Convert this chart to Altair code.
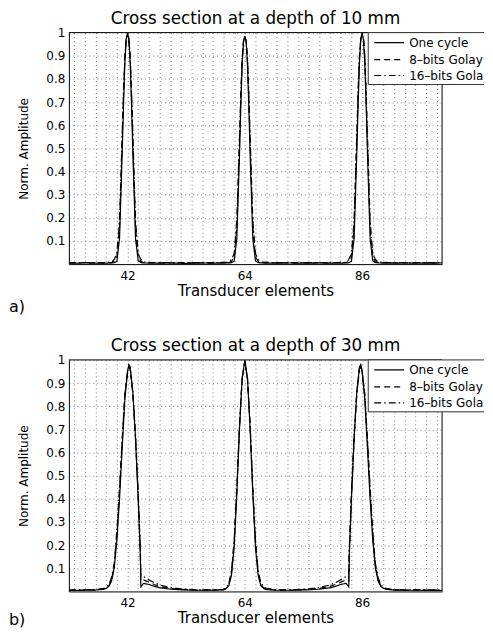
import altair as alt
import pandas as pd

SERIES = ["One cycle", "8–bits Golay", "16–bits Golay"]
DASHES = [[1, 0], [6, 4], [7, 3, 1.5, 3]]

X_LABELS = [42, 64, 86]
X_GRID = list(range(32, 101, 2))
Y_TICKS = [0.1, 0.2, 0.3, 0.4, 0.5, 0.6, 0.7, 0.8, 0.9, 1.0]

# ---------------- panel a) depth 10 mm ----------------
xa = [31, 34, 37, 39,
      39.5, 40, 40.5, 41, 41.25, 41.5, 41.75, 42, 42.25, 42.5, 42.75, 43, 43.5, 44, 44.5, 45,
      47, 50, 53, 56, 59, 61,
      61.5, 62, 62.5, 63, 63.25, 63.5, 63.75, 64, 64.25, 64.5, 64.75, 65, 65.5, 66, 66.5, 67,
      69, 72, 75, 78, 81, 83,
      83.5, 84, 84.5, 85, 85.25, 85.5, 85.75, 86, 86.25, 86.5, 86.75, 87, 87.5, 88, 88.5, 89,
      91, 94, 97, 101]

a_one = [0.004, 0.005, 0.004, 0.005,
         0.006, 0.012, 0.11, 0.48, 0.69, 0.87, 0.97, 1.0, 0.97, 0.87, 0.69, 0.48, 0.11, 0.015, 0.007, 0.005,
         0.004, 0.005, 0.003, 0.005, 0.004, 0.005,
         0.006, 0.013, 0.11, 0.47, 0.68, 0.86, 0.96, 0.985, 0.96, 0.86, 0.68, 0.47, 0.11, 0.014, 0.007, 0.005,
         0.004, 0.005, 0.004, 0.005, 0.004, 0.005,
         0.006, 0.013, 0.11, 0.48, 0.69, 0.87, 0.97, 1.0, 0.97, 0.87, 0.69, 0.48, 0.11, 0.014, 0.007, 0.005,
         0.004, 0.005, 0.004, 0.005]

a_g8 = [0.005, 0.006, 0.005, 0.006,
        0.012, 0.03, 0.16, 0.53, 0.73, 0.89, 0.975, 0.99, 0.975, 0.89, 0.73, 0.53, 0.16, 0.03, 0.012, 0.007,
        0.006, 0.005, 0.006, 0.005, 0.006, 0.006,
        0.012, 0.03, 0.16, 0.52, 0.72, 0.88, 0.965, 0.98, 0.965, 0.88, 0.72, 0.52, 0.16, 0.03, 0.012, 0.007,
        0.006, 0.005, 0.006, 0.005, 0.006, 0.006,
        0.012, 0.03, 0.16, 0.53, 0.73, 0.89, 0.975, 0.99, 0.975, 0.89, 0.73, 0.53, 0.16, 0.03, 0.012, 0.007,
        0.006, 0.005, 0.006, 0.005]

a_g16 = [0.006, 0.007, 0.006, 0.008,
         0.02, 0.045, 0.19, 0.56, 0.75, 0.9, 0.975, 0.99, 0.975, 0.9, 0.75, 0.56, 0.19, 0.045, 0.02, 0.009,
         0.007, 0.006, 0.007, 0.006, 0.007, 0.008,
         0.02, 0.045, 0.19, 0.55, 0.74, 0.89, 0.965, 0.98, 0.965, 0.89, 0.74, 0.55, 0.19, 0.045, 0.02, 0.009,
         0.007, 0.006, 0.007, 0.006, 0.007, 0.008,
         0.02, 0.045, 0.19, 0.56, 0.75, 0.9, 0.975, 0.99, 0.975, 0.9, 0.75, 0.56, 0.19, 0.045, 0.02, 0.009,
         0.007, 0.006, 0.007, 0.006]

# ---------------- panel b) depth 30 mm ----------------
xb = [31, 34, 36, 37.5, 38, 38.5, 39, 39.5, 40, 40.5,
      41, 41.5, 42, 42.25, 42.5, 43, 43.5, 44, 44.4, 44.5,
      45, 46, 47, 48, 50, 52, 55, 58,
      60, 60.5, 61, 61.5, 62, 62.5, 63, 63.5, 64, 64.5, 65, 65.5, 66, 66.5, 67, 67.5, 68,
      70, 73, 76, 78, 80, 81, 82, 83, 83.5, 83.6,
      84, 84.5, 85, 85.5, 85.75, 86, 86.5, 87, 87.5, 88,
      88.5, 89, 89.5, 90, 90.5, 92, 94, 97, 101]

b_one = [0.004, 0.005, 0.006, 0.009, 0.013, 0.022, 0.045, 0.1, 0.22, 0.4,
         0.62, 0.83, 0.95, 0.98, 0.97, 0.86, 0.66, 0.4, 0.16, 0.02,
         0.035, 0.03, 0.022, 0.016, 0.01, 0.007, 0.005, 0.005,
         0.007, 0.012, 0.025, 0.07, 0.19, 0.42, 0.7, 0.92, 1.0, 0.92, 0.7, 0.42, 0.19, 0.07, 0.025, 0.013, 0.008,
         0.005, 0.005, 0.007, 0.01, 0.016, 0.022, 0.03, 0.035, 0.02, 0.16,
         0.4, 0.66, 0.86, 0.97, 0.98, 0.95, 0.83, 0.62, 0.4, 0.22,
         0.1, 0.045, 0.022, 0.013, 0.009, 0.006, 0.005, 0.005, 0.004]

b_g8 = [0.005, 0.006, 0.007, 0.011, 0.015, 0.025, 0.05, 0.11, 0.24, 0.43,
        0.65, 0.85, 0.95, 0.97, 0.96, 0.85, 0.66, 0.41, 0.17, 0.045,
        0.05, 0.04, 0.03, 0.022, 0.013, 0.009, 0.006, 0.006,
        0.008, 0.014, 0.03, 0.08, 0.21, 0.44, 0.71, 0.92, 0.995, 0.92, 0.71, 0.44, 0.21, 0.08, 0.03, 0.016, 0.01,
        0.006, 0.006, 0.009, 0.013, 0.022, 0.03, 0.04, 0.05, 0.045, 0.17,
        0.41, 0.66, 0.85, 0.96, 0.97, 0.95, 0.85, 0.65, 0.43, 0.24,
        0.11, 0.05, 0.025, 0.015, 0.011, 0.007, 0.006, 0.006, 0.005]

b_g16 = [0.006, 0.007, 0.008, 0.013, 0.018, 0.03, 0.06, 0.12, 0.26, 0.45,
         0.66, 0.85, 0.95, 0.97, 0.96, 0.86, 0.68, 0.43, 0.19, 0.07,
         0.065, 0.05, 0.038, 0.028, 0.017, 0.011, 0.007, 0.007,
         0.009, 0.016, 0.035, 0.09, 0.22, 0.45, 0.72, 0.92, 0.99, 0.92, 0.72, 0.45, 0.22, 0.09, 0.038, 0.021, 0.013,
         0.007, 0.007, 0.011, 0.017, 0.028, 0.038, 0.05, 0.065, 0.07, 0.19,
         0.43, 0.68, 0.86, 0.96, 0.97, 0.95, 0.85, 0.66, 0.45, 0.26,
         0.12, 0.06, 0.03, 0.018, 0.013, 0.008, 0.007, 0.007, 0.006]

TITLES = ["Cross section at a depth of 10 mm", "Cross section at a depth of 30 mm"]
TAGS = ["a)", "b)"]

W, H = 374, 232
FONT = "DejaVu Sans"

# legend geometry (pixels within plot)
LX0, LX1, LH = 300, 416, 52
ROWS_Y = [10, 27, 43]
SAMPLE_X0, SAMPLE_X1, TEXT_X = 306, 336, 341

one_row = pd.DataFrame({"k": [0]})


def panel(x, ys, title, tag, tag_dy):
    rows = []
    for name, vals in zip(SERIES, ys):
        assert len(vals) == len(x)
        for xi, yi in zip(x, vals):
            rows.append({"x": xi, "y": yi, "series": name})
    df = pd.DataFrame(rows)

    lines = alt.Chart(df).mark_line(color="black", strokeWidth=1.2, clip=True).encode(
        x=alt.X("x:Q",
                scale=alt.Scale(domain=[31, 101], nice=False, zero=False),
                axis=alt.Axis(values=X_GRID,
                              labelExpr="indexof([42, 64, 86], datum.value) >= 0 ? datum.label : ''",
                              title="Transducer elements", titleFontSize=15,
                              labelFontSize=12, labelPadding=6, titlePadding=2,
                              labelFlush=False)),
        y=alt.Y("y:Q",
                scale=alt.Scale(domain=[0, 1], nice=False, zero=True),
                axis=alt.Axis(values=Y_TICKS, format=".1~f",
                              title="Norm. Amplitude", titleFontSize=12,
                              labelFontSize=12, labelPadding=4, titlePadding=15)),
        strokeDash=alt.StrokeDash("series:N",
                                  scale=alt.Scale(domain=SERIES, range=DASHES),
                                  legend=None),
    )

    frame_top = alt.Chart(one_row).mark_rule(color="black", strokeWidth=1).encode(
        x=alt.value(0), x2=alt.value(W), y=alt.value(0))
    frame_right = alt.Chart(one_row).mark_rule(color="black", strokeWidth=1).encode(
        x=alt.value(W), y=alt.value(0), y2=alt.value(H))

    box = alt.Chart(one_row).mark_rect(color="white").encode(
        x=alt.value(LX0), x2=alt.value(LX1), y=alt.value(0), y2=alt.value(LH))
    box_top = alt.Chart(one_row).mark_rule(color="#333", strokeWidth=1).encode(
        x=alt.value(LX0), x2=alt.value(LX1), y=alt.value(0))
    box_bottom = alt.Chart(one_row).mark_rule(color="#333", strokeWidth=1).encode(
        x=alt.value(LX0), x2=alt.value(LX1), y=alt.value(LH))
    box_left = alt.Chart(one_row).mark_rule(color="#333", strokeWidth=1).encode(
        x=alt.value(LX0), y=alt.value(0), y2=alt.value(LH))

    legend_parts = [box, box_top, box_bottom, box_left]
    for name, dash, ry in zip(SERIES, DASHES, ROWS_Y):
        legend_parts.append(
            alt.Chart(one_row).mark_rule(color="black", strokeWidth=1.2, strokeDash=dash).encode(
                x=alt.value(SAMPLE_X0), x2=alt.value(SAMPLE_X1), y=alt.value(ry)))
        legend_parts.append(
            alt.Chart(pd.DataFrame({"label": [name]})).mark_text(
                align="left", baseline="middle", fontSize=12, font=FONT, color="black",
                limit=75, ellipsis="\u200b").encode(
                text="label:N", x=alt.value(TEXT_X), y=alt.value(ry)))

    tag_text = alt.Chart(pd.DataFrame({"label": [tag]})).mark_text(
        align="left", baseline="middle", fontSize=16, font=FONT, color="black").encode(
        text="label:N", x=alt.value(-60), y=alt.value(H + tag_dy))

    return alt.layer(lines, frame_top, frame_right, *legend_parts, tag_text).properties(
        width=W, height=H,
        title=alt.Title(title, fontSize=16.8, fontWeight="normal", font=FONT,
                        color="black", offset=-1))


chart = alt.vconcat(
    panel(xa, [a_one, a_g8, a_g16], TITLES[0], TAGS[0], 43),
    panel(xb, [b_one, b_g8, b_g16], TITLES[1], TAGS[1], 29),
    spacing=21,
).properties(padding={"left": 0, "right": 0, "top": 1, "bottom": 0}).configure(font=FONT).configure_view(
    stroke="transparent"
).configure_axis(
    domainColor="black", domainWidth=1, labelColor="black", titleColor="black",
    titleFontWeight="normal", ticks=False, grid=True,
    gridColor="#666", gridDash=[1, 3], gridWidth=0.8,
    labelFont=FONT, titleFont=FONT,
)

chart.save("out.html", embed_options={"renderer": "svg", "actions": False})
